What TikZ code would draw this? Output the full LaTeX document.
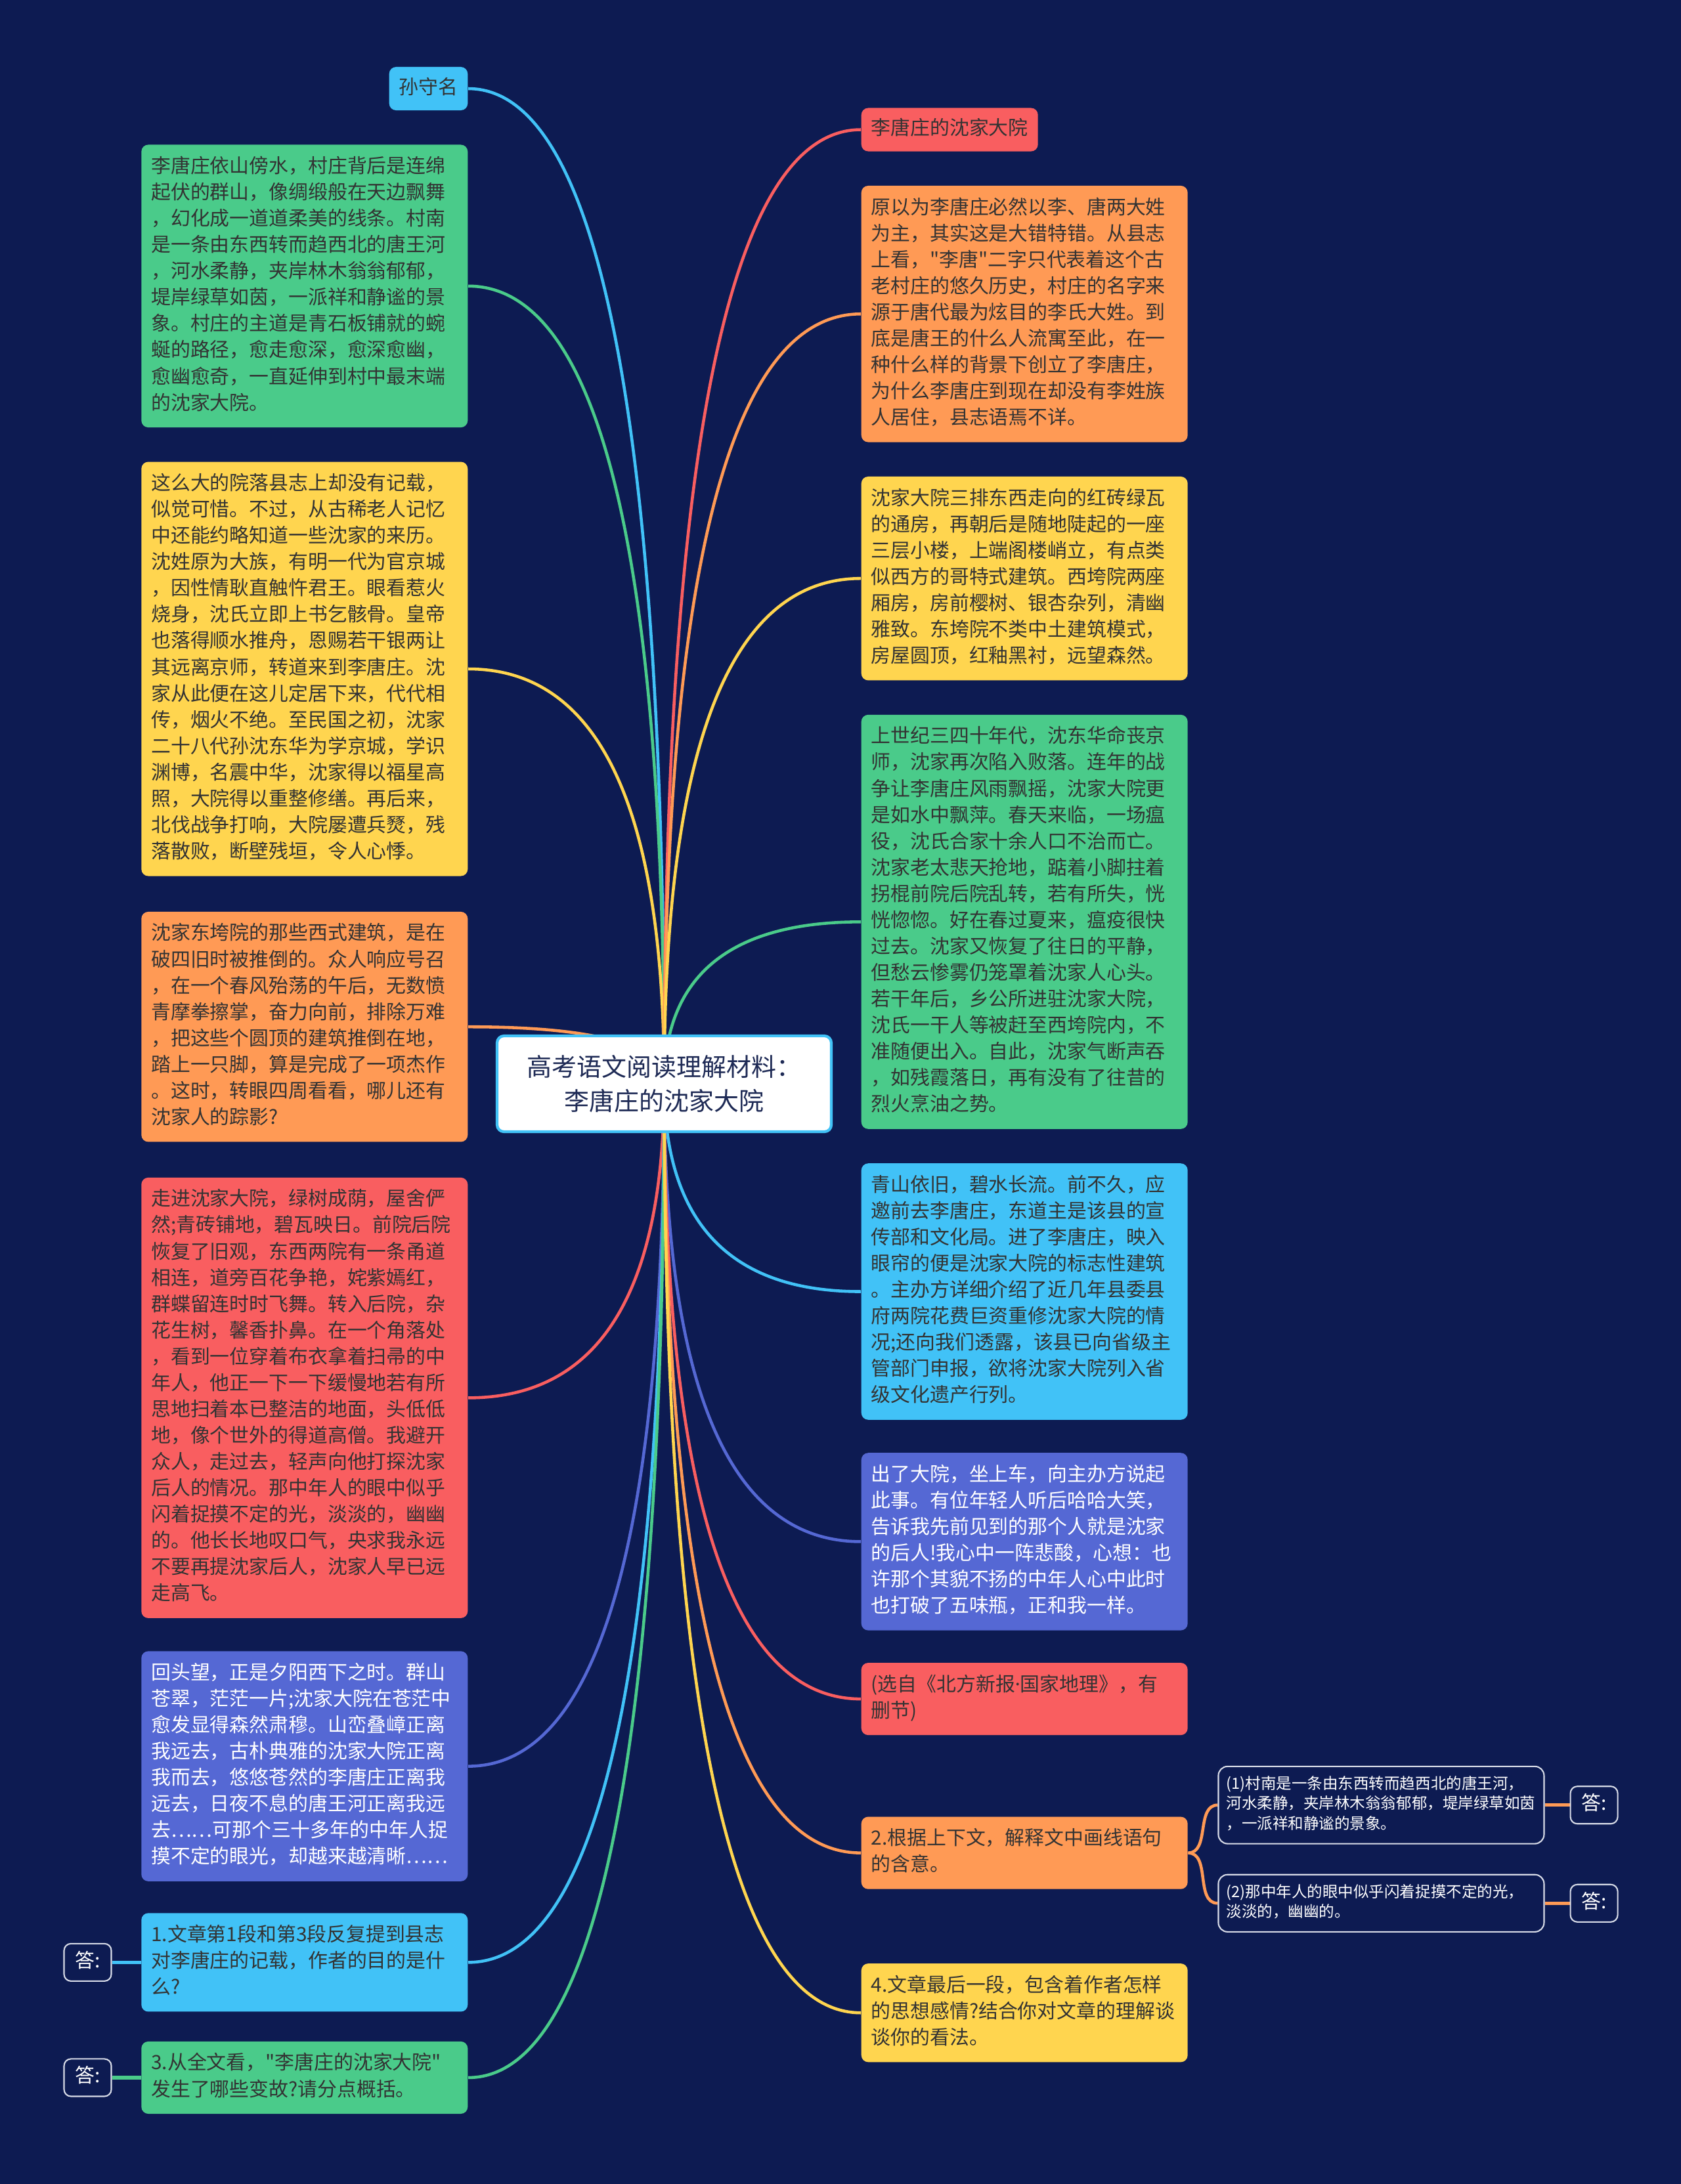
\documentclass[tikz,border=0pt]{standalone}
\usepackage{fontspec}
\setmainfont{Noto Sans CJK SC}[Ligatures=TeXOff]
\newfontfamily\latina{Noto Sans}
\usetikzlibrary{positioning, calc}
\definecolor{fondoMapa}{HTML}{0D1B52}
\definecolor{verdeCaja}{HTML}{4ACB8A}
\definecolor{amarilloCaja}{HTML}{FFD54F}
\definecolor{naranjaCaja}{HTML}{FF9A55}
\definecolor{rojoCaja}{HTML}{F95E60}
\definecolor{indigoCaja}{HTML}{5568D4}
\definecolor{celesteCaja}{HTML}{41C2F7}
\definecolor{textoCaja}{HTML}{333333}
\definecolor{textoRaiz}{HTML}{1E2A55}
\definecolor{bordeSub}{HTML}{D8DCE8}
\pgfdeclarelayer{fondo}
\pgfdeclarelayer{ramas}
\pgfsetlayers{fondo,ramas,main}

\begin{document}
\begin{tikzpicture}[
  caja/.style={rounded corners=3pt, text=textoCaja, align=left,
               text width=4.67cm, inner xsep=0.15cm, inner ysep=0.15cm,
               font=\fontsize{8.5pt}{11.4pt}\selectfont,
               execute at begin node=\strut, execute at end node=\strut},
  tema/.style={rounded corners=3pt, text=textoCaja,
               inner xsep=0.15cm, inner ysep=0.13cm,
               font=\fontsize{8.5pt}{11.4pt}\selectfont,
               execute at begin node=\strut, execute at end node=\strut},
  raiz/.style={draw=celesteCaja, line width=1.2pt, fill=white, rounded corners=3pt,
               text=textoRaiz, align=center, minimum width=5.09cm,
               minimum height=1.46cm, font=\fontsize{10.8pt}{15pt}\selectfont},
  subcaja/.style={draw=bordeSub, line width=0.6pt, fill=fondoMapa, rounded corners=4pt,
                  text=white, align=left, text width=4.72cm,
                  inner xsep=0.12cm, inner ysep=0.13cm,
                  font=\fontsize{6.7pt}{8.7pt}\selectfont,
                  execute at begin node=\strut, execute at end node=\strut},
  respuesta/.style={draw=bordeSub, line width=0.6pt, fill=fondoMapa, rounded corners=3pt,
                    text=white, minimum width=0.72cm, inner ysep=0.085cm,
                    font=\fontsize{8.5pt}{11.4pt}\selectfont,
                    execute at begin node=\strut, execute at end node=\strut},
  rama/.style={line width=1.3pt,
               to path={.. controls ($(\tikztostart)!0.6667!(\tikztostart |- \tikztotarget)$)
                        and ($(\tikztotarget)!0.6667!(\tikztostart |- \tikztotarget)$) .. (\tikztotarget)}},
  brazo/.style={line width=1.3pt, out=0, in=180},
  trazo/.style={line width=1.5pt}
]

\useasboundingbox (0,0) rectangle (25.6,-33.27);
\begin{pgfonlayer}{fondo}
\fill[fondoMapa] (0,0) rectangle (25.6,-33.27);
\end{pgfonlayer}

\node[raiz] (raiz) at (10.115,-16.51) {高考语文阅读理解材料：\\李唐庄的沈家大院};

% columna izquierda
\node[tema, fill=celesteCaja, anchor=east] (sun) at (7.13,-1.35) {孙守名};
\node[caja, fill=verdeCaja, below left=0.51cm and 0cm of sun.south east] (paisaje) {李唐庄依山傍水，村庄背后是连绵\\起伏的群山，像绸缎般在天边飘舞\\，幻化成一道道柔美的线条。村南\\是一条由东西转而趋西北的唐王河\\，河水柔静，夹岸林木翁翁郁郁，\\堤岸绿草如茵，一派祥和静谧的景\\象。村庄的主道是青石板铺就的蜿\\蜒的路径，愈走愈深，愈深愈幽，\\愈幽愈奇，一直延伸到村中最末端\\的沈家大院。};
\node[caja, fill=amarilloCaja, below=0.51cm of paisaje] (historia) {这么大的院落县志上却没有记载，\\似觉可惜。不过，从古稀老人记忆\\中还能约略知道一些沈家的来历。\\沈姓原为大族，有明一代为官京城\\，因性情耿直触忤君王。眼看惹火\\烧身，沈氏立即上书乞骸骨。皇帝\\也落得顺水推舟，恩赐若干银两让\\其远离京师，转道来到李唐庄。沈\\家从此便在这儿定居下来，代代相\\传，烟火不绝。至民国之初，沈家\\二十八代孙沈东华为学京城，学识\\渊博，名震中华，沈家得以福星高\\照，大院得以重整修缮。再后来，\\北伐战争打响，大院屡遭兵燹，残\\落散败，断壁残垣，令人心悸。};
\node[caja, fill=naranjaCaja, below=0.53cm of historia] (derribo) {沈家东垮院的那些西式建筑，是在\\破四旧时被推倒的。众人响应号召\\，在一个春风殆荡的午后，无数愤\\青摩拳擦掌，奋力向前，排除万难\\，把这些个圆顶的建筑推倒在地，\\踏上一只脚，算是完成了一项杰作\\。这时，转眼四周看看，哪儿还有\\沈家人的踪影?};
\node[caja, fill=rojoCaja, below=0.53cm of derribo] (visita) {走进沈家大院，绿树成荫，屋舍俨\\然;青砖铺地，碧瓦映日。前院后院\\恢复了旧观，东西两院有一条甬道\\相连，道旁百花争艳，姹紫嫣红，\\群蝶留连时时飞舞。转入后院，杂\\花生树，馨香扑鼻。在一个角落处\\，看到一位穿着布衣拿着扫帚的中\\年人，他正一下一下缓慢地若有所\\思地扫着本已整洁的地面，头低低\\地，像个世外的得道高僧。我避开\\众人，走过去，轻声向他打探沈家\\后人的情况。那中年人的眼中似乎\\闪着捉摸不定的光，淡淡的，幽幽\\的。他长长地叹口气，央求我永远\\不要再提沈家后人，沈家人早已远\\走高飞。};
\node[caja, fill=indigoCaja, text=white, below=0.49cm of visita] (despedida) {回头望，正是夕阳西下之时。群山\\苍翠，茫茫一片;沈家大院在苍茫中\\愈发显得森然肃穆。山峦叠嶂正离\\我远去，古朴典雅的沈家大院正离\\我而去，悠悠苍然的李唐庄正离我\\远去，日夜不息的唐王河正离我远\\去……可那个三十多年的中年人捉\\摸不定的眼光，却越来越清晰……};
\node[caja, fill=celesteCaja, below=0.47cm of despedida] (pregunta1) {1.文章第1段和第3段反复提到县志\\对李唐庄的记载，作者的目的是什\\么?};
\node[caja, fill=verdeCaja, below=0.44cm of pregunta1] (pregunta3) {3.从全文看，"李唐庄的沈家大院"\\发生了哪些变故?请分点概括。};
\node[respuesta, left=0.44cm of pregunta1] (resp1) {答:};
\node[respuesta, left=0.44cm of pregunta3] (resp3) {答:};

% columna derecha
\node[tema, fill=rojoCaja, anchor=west] (titulo) at (13.11,-1.975) {李唐庄的沈家大院};
\node[caja, fill=naranjaCaja, below right=0.51cm and 0cm of titulo.south west] (origen) {原以为李唐庄必然以李、唐两大姓\\为主，其实这是大错特错。从县志\\上看，"李唐"二字只代表着这个古\\老村庄的悠久历史，村庄的名字来\\源于唐代最为炫目的李氏大姓。到\\底是唐王的什么人流寓至此，在一\\种什么样的背景下创立了李唐庄，\\为什么李唐庄到现在却没有李姓族\\人居住，县志语焉不详。};
\node[caja, fill=amarilloCaja, below=0.51cm of origen] (casas) {沈家大院三排东西走向的红砖绿瓦\\的通房，再朝后是随地陡起的一座\\三层小楼，上端阁楼峭立，有点类\\似西方的哥特式建筑。西垮院两座\\厢房，房前樱树、银杏杂列，清幽\\雅致。东垮院不类中土建筑模式，\\房屋圆顶，红釉黑衬，远望森然。};
\node[caja, fill=verdeCaja, below=0.51cm of casas] (decadencia) {上世纪三四十年代，沈东华命丧京\\师，沈家再次陷入败落。连年的战\\争让李唐庄风雨飘摇，沈家大院更\\是如水中飘萍。春天来临，一场瘟\\役，沈氏合家十余人口不治而亡。\\沈家老太悲天抢地，踮着小脚拄着\\拐棍前院后院乱转，若有所失，恍\\恍惚惚。好在春过夏来，瘟疫很快\\过去。沈家又恢复了往日的平静，\\但愁云惨雾仍笼罩着沈家人心头。\\若干年后，乡公所进驻沈家大院，\\沈氏一干人等被赶至西垮院内，不\\准随便出入。自此，沈家气断声吞\\，如残霞落日，再有没有了往昔的\\烈火烹油之势。};
\node[caja, fill=celesteCaja, below=0.51cm of decadencia] (hoy) {青山依旧，碧水长流。前不久，应\\邀前去李唐庄，东道主是该县的宣\\传部和文化局。进了李唐庄，映入\\眼帘的便是沈家大院的标志性建筑\\。主办方详细介绍了近几年县委县\\府两院花费巨资重修沈家大院的情\\况;还向我们透露，该县已向省级主\\管部门申报，欲将沈家大院列入省\\级文化遗产行列。};
\node[caja, fill=indigoCaja, text=white, below=0.49cm of hoy] (secreto) {出了大院，坐上车，向主办方说起\\此事。有位年轻人听后哈哈大笑，\\告诉我先前见到的那个人就是沈家\\的后人!我心中一阵悲酸，心想：也\\许那个其貌不扬的中年人心中此时\\也打破了五味瓶，正和我一样。};
\node[caja, fill=rojoCaja, below=0.48cm of secreto] (fuente) {(选自《北方新报{\latina ·}国家地理》，有\\删节)};
\node[caja, fill=naranjaCaja, below=1.23cm of fuente] (pregunta2) {2.根据上下文，解释文中画线语句\\的含意。};
\node[caja, fill=amarilloCaja, below=1.12cm of pregunta2] (pregunta4) {4.文章最后一段，包含着作者怎样\\的思想感情?结合你对文章的理解谈\\谈你的看法。};

\node[subcaja, above right=0.13cm and 0.45cm of pregunta2.east] (frase1) {(1)村南是一条由东西转而趋西北的唐王河，\\河水柔静，夹岸林木翁翁郁郁，堤岸绿草如茵\\，一派祥和静谧的景象。};
\node[subcaja, below right=0.32cm and 0.45cm of pregunta2.east] (frase2) {(2)那中年人的眼中似乎闪着捉摸不定的光，\\淡淡的，幽幽的。};
\node[respuesta, right=0.38cm of frase1] (resp2a) {答:};
\node[respuesta, right=0.38cm of frase2] (resp2b) {答:};

\begin{pgfonlayer}{ramas}
\draw[rama, celesteCaja] (raiz.center) to (sun.east);
\draw[rama, verdeCaja] (raiz.center) to (paisaje.east);
\draw[rama, amarilloCaja] (raiz.center) to (historia.east);
\draw[rama, naranjaCaja] (raiz.center) to (derribo.east);
\draw[rama, rojoCaja] (raiz.center) to (visita.east);
\draw[rama, indigoCaja] (raiz.center) to (despedida.east);
\draw[rama, celesteCaja] (raiz.center) to (pregunta1.east);
\draw[rama, verdeCaja] (raiz.center) to (pregunta3.east);

\draw[rama, rojoCaja] (raiz.center) to (titulo.west);
\draw[rama, naranjaCaja] (raiz.center) to (origen.west);
\draw[rama, amarilloCaja] (raiz.center) to (casas.west);
\draw[rama, verdeCaja] (raiz.center) to (decadencia.west);
\draw[rama, celesteCaja] (raiz.center) to (hoy.west);
\draw[rama, indigoCaja] (raiz.center) to (secreto.west);
\draw[rama, rojoCaja] (raiz.center) to (fuente.west);
\draw[rama, naranjaCaja] (raiz.center) to (pregunta2.west);
\draw[rama, amarilloCaja] (raiz.center) to (pregunta4.west);

\draw[brazo, naranjaCaja] (pregunta2.east) to (frase1.west);
\draw[brazo, naranjaCaja] (pregunta2.east) to (frase2.west);
\draw[trazo, naranjaCaja] (frase1) -- (resp2a);
\draw[trazo, naranjaCaja] (frase2) -- (resp2b);
\draw[trazo, celesteCaja] (pregunta1) -- (resp1);
\draw[trazo, verdeCaja] (pregunta3) -- (resp3);
\end{pgfonlayer}

\end{tikzpicture}
\end{document}
